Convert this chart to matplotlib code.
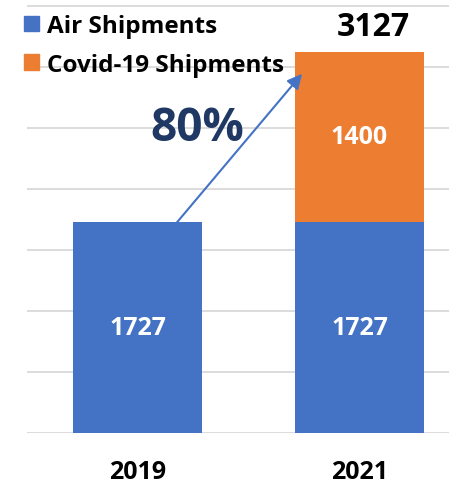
import matplotlib
matplotlib.use("Agg")
import matplotlib.pyplot as plt
from matplotlib.patches import Patch

categories = ["2019", "2021"]
air = [1727, 1727]
covid = [0, 1400]
total_label = "3127"
growth_label = "80%"

BLUE = "#4472C4"
ORANGE = "#ED7D31"
NAVY = "#203864"

plt.rcParams['font.family'] = ['Open Sans', 'DejaVu Sans']

W, H = 449, 485
fig = plt.figure(figsize=(W / 100, H / 100), dpi=100)
left_px, right_px = 26.5, 470.5
bottom_px = 434
ax = fig.add_axes([left_px / W, (H - bottom_px) / H, (right_px - left_px) / W, bottom_px / H])
ax.set_xlim(-0.5, 1.5)
px_per_unit = 61 / 500
ax.set_ylim(0, bottom_px / px_per_unit)

x = list(range(len(categories)))
bw = 0.58
ax.bar(x, air, width=bw, color=BLUE, zorder=2, label="Air Shipments")
ax.bar(x[1:], covid[1:], bottom=air[1:], width=bw, color=ORANGE, zorder=2, label="Covid-19 Shipments")

for xi, v in zip(x, air):
    ax.text(xi, v / 2, str(v), ha="center", va="center", color="white",
            fontsize=18, fontweight="bold", zorder=3)
ax.text(1, air[1] + covid[1] / 2, str(covid[1]), ha="center", va="center",
        color="white", fontsize=18, fontweight="bold", zorder=3)
ax.text(1.06, 3330, total_label, ha="center", va="center", color="black",
        fontsize=23, fontweight="bold", zorder=3, clip_on=False)

ax.annotate("", xy=(0.741, 2944), xytext=(0.178, air[0]),
            arrowprops=dict(arrowstyle="-|>", color=BLUE, lw=1.5,
                            mutation_scale=22, shrinkA=0, shrinkB=0), zorder=4)
ax.text(0.268, 2501, growth_label, ha="center", va="center", color=NAVY,
        fontsize=33, fontweight="bold", zorder=4)

ax.set_yticks(range(0, 3501, 500))
ax.yaxis.grid(True, color="#D9D9D9", lw=1.3, zorder=0)
ax.tick_params(axis="y", left=False, labelleft=False)
ax.set_xticks(x, categories)
ax.tick_params(axis="x", bottom=False, pad=15, labelsize=18)
for lbl in ax.get_xticklabels():
    lbl.set_fontweight("bold")
for s in ax.spines.values():
    s.set_visible(False)

handles = [Patch(color=BLUE, label="Air Shipments"),
           Patch(color=ORANGE, label="Covid-19 Shipments")]
leg = fig.legend(handles=handles, loc="upper left", bbox_to_anchor=(24 / W, 1 - 15 / H),
                 frameon=False, prop=dict(size=17.5, weight="bold"),
                 handlelength=0.62, handleheight=0.62, handletextpad=0.33,
                 labelspacing=0.6, borderpad=0, borderaxespad=0)

fig.savefig("out.png", dpi=100)
